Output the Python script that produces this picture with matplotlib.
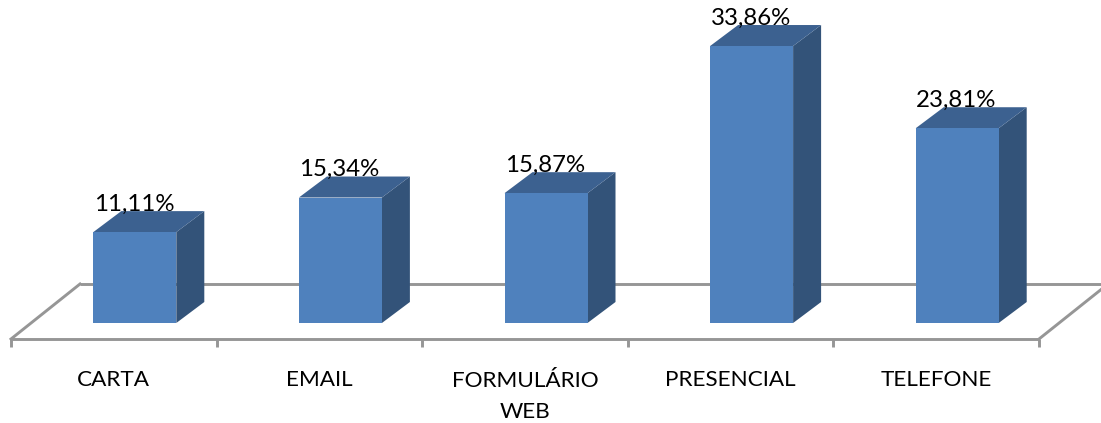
from matplotlib import pyplot as plt
from matplotlib.patches import Polygon

categorias = ['CARTA', 'EMAIL', 'FORMULÁRIO\nWEB', 'PRESENCIAL', 'TELEFONE']
valores = [11.11, 15.34, 15.87, 33.86, 23.81]
rotulos = ['11,11%', '15,34%', '15,87%', '33,86%', '23,81%']

plt.rcParams['font.family'] = ['Lato', 'DejaVu Sans']

# escala: 205.6 px por categoria, 8.18 px por ponto percentual
px_x = 205.6
px_y = 8.18
W, H = 1101, 423
x0_px, y0_px = 11, 323

fig = plt.figure(figsize=(W / 100, H / 100), dpi=100)
ax = fig.add_axes([0, 0, 1, 1])
ax.set_xlim(-x0_px / px_x, (W - x0_px) / px_x)
ax.set_ylim((y0_px - H) / px_y, y0_px / px_y)
ax.axis('off')

cinza = '#969696'
frente = '#4F81BD'
lado = '#335379'
topo = '#3C6190'

largura = 83 / px_x
desloc = 21 / px_x
dx = 28 / px_x
dy = 21 / px_y
n = len(categorias)

# chao em perspectiva
y_frente = -16 / px_y
y_fundo = 39 / px_y
chao_dx = 69 / px_x
ax.plot([0, n], [y_frente, y_frente], color=cinza, lw=2.1, zorder=1, solid_capstyle='butt')
ax.plot([0, chao_dx], [y_frente, y_fundo], color=cinza, lw=2.1, zorder=1)
ax.plot([n, n + chao_dx], [y_frente, y_fundo], color=cinza, lw=2.1, zorder=1)
ax.plot([chao_dx, n + chao_dx], [y_fundo, y_fundo], color=cinza, lw=2.1, zorder=1, solid_capstyle='butt')
for i in range(n + 1):
    ax.plot([i, i], [y_frente, y_frente - 8 / px_y], color=cinza, lw=2.1, zorder=1, solid_capstyle='butt')

centros = [i + 0.5 + desloc for i in range(n)]
ax.bar(centros, valores, width=largura, color=frente, zorder=3)

for c, v, r in zip(centros, valores, rotulos):
    d = c + largura / 2
    e = c - largura / 2
    ax.add_patch(Polygon([(d, 0), (d + dx, dy), (d + dx, v + dy), (d, v)], color=lado, lw=0, zorder=2))
    ax.add_patch(Polygon([(e, v), (d, v), (d + dx, v + dy), (e + dx, v + dy)], color=topo, lw=0, zorder=2))
    ax.text(c - 1 / px_x, v + 28 / px_y, r, ha='center', va='center', fontsize=17.3, color='black', zorder=4)

for i, cat in enumerate(categorias):
    y_txt = -73.5 if '\n' in cat else -57
    ax.text(i + 0.5, y_txt / px_y, cat, ha='center', va='center', fontsize=16.2, color='black', linespacing=1.65)

plt.savefig('out.png', dpi=100)
